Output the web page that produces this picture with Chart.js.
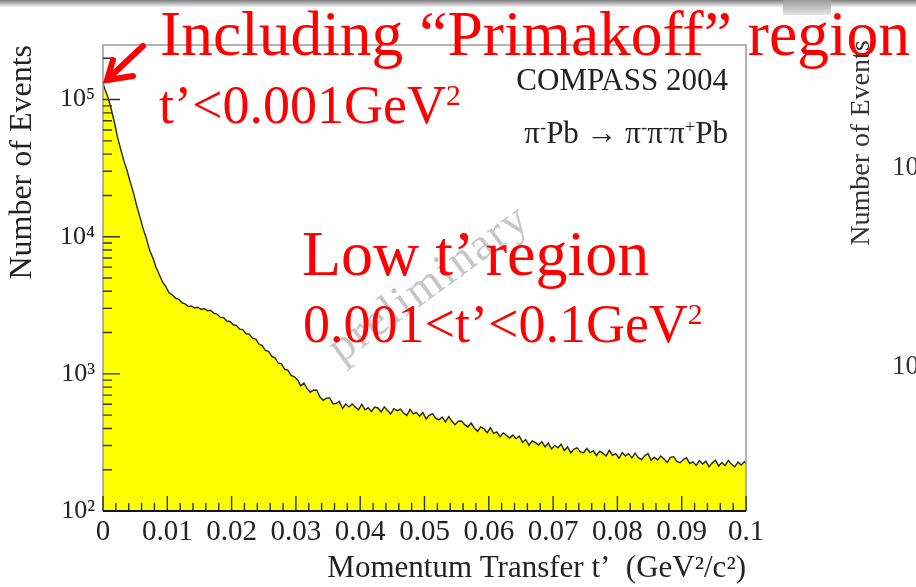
<!DOCTYPE html>
<html>
<head>
<meta charset="utf-8">
<script src="https://cdn.jsdelivr.net/npm/chart.js@4.4.1/dist/chart.umd.min.js"></script>
<style>
body { margin: 0; width: 916px; height: 587px; overflow: hidden; background: #fff; position: relative; font-family: "Liberation Serif", "DejaVu Serif", serif; }
canvas { position: absolute; left: 0; top: 0; }
.t { position: absolute; white-space: nowrap; line-height: 1; }
.red { color: #ff0000; }
.sup { position: relative; font-size: 0.55em; }
.ps { position: relative; top: -0.55em; font-size: 0.6em; }
</style>
</head>
<body>
<div style="position:absolute;left:0;top:0;width:916px;height:7px;background:linear-gradient(#7d7d7d,#c4c4c4 60%,#f4f4f4)"></div>
<div style="position:absolute;left:783px;top:0;width:48px;height:15px;background:linear-gradient(#9a9a9a,#e6e6e6)"></div>

<canvas id="chart-tprime" width="916" height="587"></canvas>

<div class="t" style="left:428px;top:282px;transform:translate(-50%,-50%) rotate(-36deg);color:#c6c6c6;font-size:46px;letter-spacing:2px">preliminary</div>

<div class="t" style="right:188px;top:64px;font-size:31px;color:#222">COMPASS 2004</div>
<div class="t" style="right:188px;top:117px;font-size:31px;color:#222">π<span class="ps">-</span>Pb → π<span class="ps">-</span>π<span class="ps">-</span>π<span class="ps">+</span>Pb</div>

<div class="t" style="left:860px;top:143px;transform:translate(-50%,-50%) rotate(-90deg);font-size:28px;color:#333">Number of Events</div>
<div class="t" style="left:892px;top:153px;font-size:27px;color:#333">10</div>
<div class="t" style="left:892px;top:352px;font-size:27px;color:#333">10</div>

<div class="t red" style="left:160px;top:2px;font-size:63.5px">Including “Primakoff” region</div>
<div class="t red" style="left:159px;top:78px;font-size:54px">t’&lt;0.001GeV<span class="sup" style="top:-18px">2</span></div>
<div class="t red" style="left:302px;top:222px;font-size:64px">Low t’ region</div>
<div class="t red" style="left:303px;top:297px;font-size:54px">0.001&lt;t’&lt;0.1GeV<span class="sup" style="top:-18px">2</span></div>

<svg style="position:absolute;left:0;top:0" width="916" height="587">
  <line x1="143" y1="46" x2="111" y2="76" stroke="#ff0000" stroke-width="6" stroke-linecap="round"/>
  <polyline points="113,60 107,80 133,76" fill="none" stroke="#ff0000" stroke-width="6" stroke-linecap="round" stroke-linejoin="miter"/>
</svg>

<script>
// histogram of t' : bins of 0.0005 GeV^2/c^2 starting at 0, drawn through bin centres
var binStart = 0
var binWidth = 0.0005
var countAtZero = 131000
var countAtEnd = 222
var counts = [
  121000, 104500, 86400, 68900, 53500, 43400, 35700, 30300, 24900, 20800, 16700, 13900, 11400, 9710, 7990, 7020, 5980, 5300, 4680, 4350,
  3910, 3770, 3570, 3500, 3310, 3240, 3100, 3130, 3020, 3060, 2950, 2990, 2880, 2910, 2760, 2730, 2580, 2570, 2430, 2410,
  2280, 2260, 2120, 2100, 1960, 1950, 1820, 1790, 1650, 1610, 1480, 1460, 1340, 1310, 1200, 1185, 1080, 1065, 975, 952,
  907, 818, 856, 781, 733, 762, 759, 678, 641, 665, 667, 606, 608, 631, 560, 602, 574, 604, 571, 548,
  602, 547, 567, 530, 573, 564, 529, 575, 541, 510, 557, 538, 554, 518, 498, 551, 510, 522, 492, 522,
  469, 499, 513, 473, 462, 485, 446, 487, 453, 426, 451, 453, 426, 410, 438, 403, 381, 411, 398, 372,
  405, 368, 378, 347, 371, 355, 340, 358, 337, 352, 317, 332, 302, 325, 315, 303, 321, 294, 313, 283,
  301, 289, 307, 276, 293, 265, 283, 289, 270, 266, 286, 267, 274, 254, 273, 264, 252, 277, 255, 262,
  243, 266, 252, 262, 244, 264, 245, 237, 253, 262, 235, 246, 236, 252, 239, 226, 246, 249, 230, 225,
  237, 245, 222, 228, 215, 233, 220, 231, 210, 225, 234, 213, 226, 215, 234, 219, 210, 227, 216, 229
]
var xTickLabels = ['0', '0.01', '0.02', '0.03', '0.04', '0.05', '0.06', '0.07', '0.08', '0.09', '0.1']
var yDecades = [100, 1000, 10000, 100000]
var yDecadeLabels = ['10²', '10³', '10⁴', '10⁵']

var serif = '"Liberation Serif", "DejaVu Serif", serif'

var points = [{ x: binStart, y: countAtZero }]
counts.forEach(function (c, i) {
  points.push({ x: binStart + (i + 0.5) * binWidth, y: c })
})
points.push({ x: binStart + counts.length * binWidth, y: countAtEnd })

function isDecade(v) {
  for (var k = 0; k < yDecades.length; k++) {
    if (Math.abs(v - yDecades[k]) < 1e-6 * yDecades[k]) return k
  }
  return -1
}

// ROOT style frame with ticks pointing inside
var frameTicks = {
  id: 'frameTicks',
  afterDatasetsDraw: function (chart) {
    var ctx = chart.ctx, a = chart.chartArea, x = chart.scales.x, y = chart.scales.y
    ctx.save()
    ctx.strokeStyle = '#9a9a9a'
    ctx.lineWidth = 1.5
    ctx.strokeRect(a.left, a.top, a.right - a.left, a.bottom - a.top)

    ctx.strokeStyle = '#333'
    ctx.lineWidth = 1.4
    ctx.beginPath()
    for (var i = 0; i <= 50; i++) {
      var px = x.getPixelForValue(i * 0.002)
      var len = (i % 5 === 0) ? 15 : 8
      ctx.moveTo(px, a.bottom)
      ctx.lineTo(px, a.bottom - len)
    }
    y.ticks.forEach(function (t) {
      var e = Math.floor(Math.log10(t.value) + 1e-9)
      var m = t.value / Math.pow(10, e)
      if (Math.abs(m - Math.round(m)) > 1e-6) return
      var py = y.getPixelForValue(t.value)
      var len = isDecade(t.value) >= 0 ? 17 : 9
      ctx.moveTo(a.left, py)
      ctx.lineTo(a.left + len, py)
    })
    ctx.stroke()

    ctx.strokeStyle = '#111'
    ctx.lineWidth = 2
    ctx.beginPath()
    ctx.moveTo(a.left, a.bottom)
    ctx.lineTo(a.right, a.bottom)
    ctx.stroke()
    ctx.restore()
  }
}

new Chart(document.getElementById('chart-tprime'), {
  type: 'line',
  data: {
    datasets: [{
      data: points,
      borderColor: '#262626',
      borderWidth: 1.4,
      backgroundColor: '#ffff00',
      fill: 'start',
      pointRadius: 0,
      tension: 0
    }]
  },
  options: {
    responsive: false,
    animation: false,
    devicePixelRatio: 1,
    layout: { padding: { top: 45, right: 170, left: 0, bottom: 0 } },
    plugins: { legend: { display: false }, tooltip: { enabled: false } },
    scales: {
      x: {
        type: 'linear',
        min: 0,
        max: 0.1,
        grid: { display: false, drawTicks: false },
        border: { display: false },
        ticks: {
          stepSize: 0.01,
          autoSkip: false,
          maxRotation: 0,
          padding: 7,
          color: '#222',
          font: { family: serif, size: 29, lineHeight: 1 },
          callback: function (v) { return xTickLabels[Math.round(v * 100)] }
        },
        title: {
          display: true,
          text: 'Momentum Transfer t’  (GeV²/c²)',
          align: 'end',
          color: '#222',
          font: { family: serif, size: 31, lineHeight: 1 },
          padding: { top: 0, bottom: 3 }
        },
        afterFit: function (s) { s.height = 76 }
      },
      y: {
        type: 'logarithmic',
        min: 100,
        max: 250000,
        grid: { display: false, drawTicks: false },
        border: { display: false },
        ticks: {
          autoSkip: false,
          padding: 8,
          color: '#222',
          font: { family: serif, size: 26 },
          callback: function (v) {
            var k = isDecade(v)
            return k < 0 ? '' : yDecadeLabels[k]
          }
        },
        title: {
          display: true,
          text: 'Number of Events',
          align: 'end',
          color: '#222',
          font: { family: serif, size: 32, lineHeight: 1 },
          padding: { top: 7, bottom: 0 }
        },
        afterFit: function (s) { s.width = 103 }
      }
    }
  },
  plugins: [frameTicks]
})
</script>
</body>
</html>
